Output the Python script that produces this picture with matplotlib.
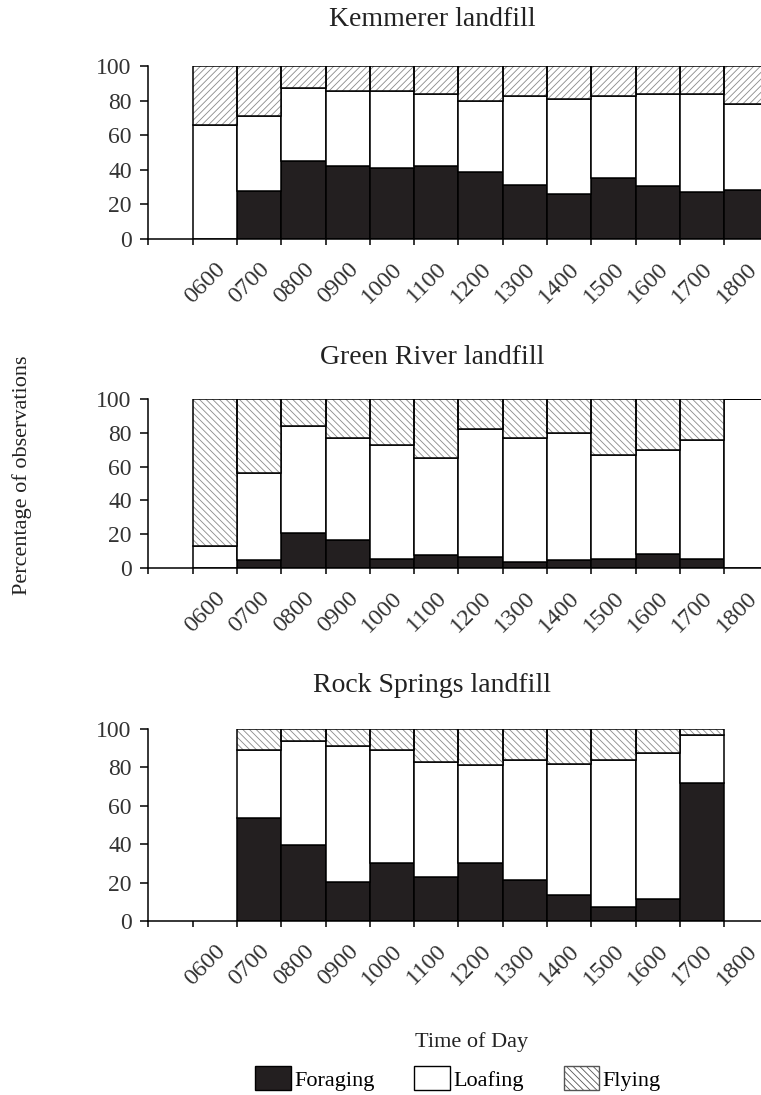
import numpy as np
import matplotlib.pyplot as plt
from matplotlib.patches import Patch
from matplotlib.transforms import ScaledTranslation

plt.rcParams['font.family'] = ['Liberation Serif', 'DejaVu Serif']
plt.rcParams['hatch.linewidth'] = 0.6

times = ['0600', '0700', '0800', '0900', '1000', '1100', '1200',
         '1300', '1400', '1500', '1600', '1700', '1800']

# percentages (nan = no observations)
kem_forage = [0, 27.5, 45, 42, 41, 42, 39, 31, 26, 35.5, 30.5, 27, 28.5]
kem_loaf = [66, 43.5, 42, 43.5, 44.5, 42, 41, 51.5, 55, 47, 53.5, 57, 49.5]
kem_fly = [34, 29, 13, 14.5, 14.5, 16, 20, 17.5, 19, 17.5, 16, 16, 22]

gr_forage = [0, 4.5, 21, 16.5, 5.5, 7.5, 6.5, 3.5, 4.5, 5.5, 8.5, 5.5, 0]
gr_loaf = [13, 52, 63, 60.5, 67.5, 57.5, 75.5, 73.5, 75.5, 61.5, 61.5, 70.5, 100]
gr_fly = [87, 43.5, 16, 23, 27, 35, 18, 23, 20, 33, 30, 24, 0]

rs_forage = [np.nan, 53.5, 39.5, 20.5, 30, 23, 30, 21.5, 13.5, 7.5, 11.5, 72, np.nan]
rs_loaf = [np.nan, 35.5, 54, 70.5, 59, 60, 51, 62.5, 68.5, 76.5, 76, 25, np.nan]
rs_fly = [np.nan, 11, 6.5, 9, 11, 17, 19, 16, 18, 16, 12.5, 3, np.nan]

panels = [
    ('Kemmerer landfill', kem_forage, kem_loaf, kem_fly, '/////'),
    ('Green River landfill', gr_forage, gr_loaf, gr_fly, '\\' * 5),
    ('Rock Springs landfill', rs_forage, rs_loaf, rs_fly, '\\' * 5),
]

W, H = 761, 1095
fig = plt.figure(figsize=(W / 100, H / 100), dpi=100)

# axes placement in pixels: (top of 100, position of 0)
boxes = [(66, 239), (399, 568), (729, 921)]
title_y = [20, 357, 686]
left_px = 148.3
step_px = 44.3
xmax = (W - left_px) / step_px
shift = ScaledTranslation(-5 / 100, 0, fig.dpi_scale_trans)

for (title, fo, lo, fl, hatch), (ytop, ybot), ty in zip(panels, boxes, title_y):
    ax = fig.add_axes([left_px / W, 1 - ybot / H, 1 - left_px / W, (ybot - ytop) / H])
    fo = np.array(fo, dtype=float)
    lo = np.array(lo, dtype=float)
    fl = np.array(fl, dtype=float)
    x = np.arange(len(times)) + 1.5
    ok = ~np.isnan(fo)
    x, fo, lo, fl = x[ok], fo[ok], lo[ok], fl[ok]

    ax.bar(x, fo, width=1, color='#231f20', edgecolor='black', linewidth=1.1)
    ax.bar(x, lo, width=1, bottom=fo, color='white', edgecolor='black', linewidth=1.1)
    ax.bar(x, fl, width=1, bottom=fo + lo, color='white', edgecolor='#8a8a8a',
           linewidth=0, hatch=hatch)
    ax.bar(x, fl, width=1, bottom=fo + lo, fill=False, edgecolor='black', linewidth=1.1)

    ax.set_xlim(0, xmax)
    ax.set_ylim(0, 100)
    ax.set_yticks(range(0, 101, 20))
    ax.set_xticks(np.arange(0, 14))
    ax.set_xticklabels([])
    ax.set_xticks(np.arange(len(times)) + 1.5, minor=True)
    ax.set_xticklabels(times, minor=True, rotation=45, ha='right', va='top',
                       rotation_mode='anchor')
    for lab in ax.get_xticklabels(minor=True):
        lab.set_transform(lab.get_transform() + shift)
    ax.tick_params(axis='x', which='major', direction='out', length=4.5, width=1.1)
    ax.tick_params(axis='x', which='minor', length=0, pad=14, labelsize=17.5,
                   labelcolor='#333333')
    ax.tick_params(axis='y', direction='out', length=6, width=1.1, pad=6,
                   labelsize=17, labelcolor='#333333')
    for s in ['top', 'right']:
        ax.spines[s].set_visible(False)
    for s in ['left', 'bottom']:
        ax.spines[s].set_linewidth(1.1)

    fig.text(432 / W, 1 - ty / H, title, ha='center', va='center',
             fontsize=20, color='#222222')

fig.text(22 / W, 1 - 475 / H, 'Percentage of observations', rotation=90,
         ha='center', va='center', fontsize=16, color='#222222')
fig.text(472 / W, 1 - 1042 / H, 'Time of Day', ha='center', va='center',
         fontsize=16, color='#222222')

handles = [Patch(facecolor='#231f20', edgecolor='black', label='Foraging'),
           Patch(facecolor='white', edgecolor='black', label='Loafing'),
           Patch(facecolor='white', edgecolor='#555555', hatch='\\' * 5, label='Flying')]
fig.legend(handles=handles, loc='upper center', bbox_to_anchor=(458 / W, 1 - 1066 / H),
           ncol=3, frameon=False, fontsize=16, handlelength=1.6, handleheight=1.3,
           handletextpad=0.15, columnspacing=1.8, borderpad=0, borderaxespad=0)

fig.savefig('out.png', dpi=100)
